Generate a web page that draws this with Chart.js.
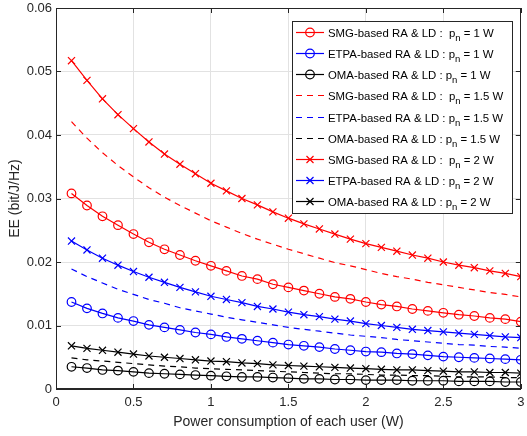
<!DOCTYPE html>
<html>
<head>
<meta charset="utf-8">
<script src="https://cdn.jsdelivr.net/npm/chart.js@4.4.1/dist/chart.umd.min.js"></script>
<style>
html,body{margin:0;padding:0;background:#fff;}
canvas{display:block;}
</style>
</head>
<body>
<canvas id="c" width="527" height="436"></canvas>
<script>
// ---------- data ----------
const xValues = [0.1,0.2,0.3,0.4,0.5,0.6,0.7,0.8,0.9,1.0,1.1,1.2,1.3,1.4,1.5,1.6,1.7,1.8,1.9,2.0,2.1,2.2,2.3,2.4,2.5,2.6,2.7,2.8,2.9,3.0];

const smg1  = [0.0308,0.0289,0.0272,0.0258,0.0244,0.0231,0.0220,0.0211,0.0202,0.0194,0.0186,0.0178,0.0173,0.0165,0.0160,0.0155,0.0150,0.0145,0.0142,0.0137,0.0133,0.0130,0.0126,0.0123,0.0120,0.0117,0.0115,0.0112,0.0110,0.0106];
const etpa1 = [0.0137,0.0127,0.0119,0.0112,0.0107,0.0101,0.0097,0.0093,0.0089,0.0086,0.0082,0.0079,0.0076,0.0073,0.0070,0.0068,0.0066,0.0063,0.0061,0.0059,0.0058,0.0056,0.0055,0.0053,0.0051,0.0050,0.0049,0.0048,0.0047,0.0046];
const oma1  = [0.0035,0.0033,0.0030,0.0029,0.0027,0.0025,0.0024,0.0023,0.0022,0.0021,0.0020,0.0019,0.0019,0.0018,0.0017,0.0016,0.0016,0.0015,0.0015,0.0014,0.0014,0.0014,0.0013,0.0013,0.0013,0.0012,0.0012,0.0012,0.0011,0.0011];
const smg15 = [0.0421,0.0395,0.0372,0.0352,0.0334,0.0317,0.0302,0.0289,0.0277,0.0265,0.0255,0.0245,0.0236,0.0228,0.0220,0.0213,0.0206,0.0199,0.0194,0.0188,0.0182,0.0177,0.0173,0.0168,0.0164,0.0160,0.0156,0.0152,0.0149,0.0145];
const etpa15= [0.0189,0.0177,0.0167,0.0157,0.0149,0.0141,0.0135,0.0128,0.0123,0.0118,0.0113,0.0109,0.0105,0.0101,0.0097,0.0094,0.0091,0.0088,0.0085,0.0083,0.0081,0.0078,0.0076,0.0074,0.0072,0.0070,0.0069,0.0067,0.0066,0.0064];
const oma15 = [0.0049,0.0046,0.0044,0.0042,0.0040,0.0038,0.0036,0.0035,0.0033,0.0032,0.0031,0.0030,0.0029,0.0028,0.0027,0.0026,0.0025,0.0024,0.0024,0.0023,0.0022,0.0022,0.0021,0.0021,0.0020,0.0019,0.0019,0.0019,0.0018,0.0018];
const smg2  = [0.0517,0.0486,0.0457,0.0432,0.0410,0.0389,0.0370,0.0354,0.0339,0.0324,0.0312,0.0300,0.0290,0.0279,0.0269,0.0260,0.0252,0.0244,0.0236,0.0229,0.0223,0.0217,0.0211,0.0206,0.0200,0.0195,0.0191,0.0186,0.0182,0.0177];
const etpa2 = [0.0233,0.0219,0.0206,0.0195,0.0185,0.0176,0.0168,0.0160,0.0153,0.0146,0.0141,0.0136,0.0130,0.0126,0.0121,0.0117,0.0114,0.0110,0.0107,0.0103,0.0100,0.0097,0.0094,0.0092,0.0090,0.0088,0.0086,0.0084,0.0082,0.0081];
const oma2  = [0.0068,0.0064,0.0061,0.0058,0.0055,0.0052,0.0050,0.0048,0.0046,0.0044,0.0043,0.0041,0.0040,0.0038,0.0037,0.0036,0.0035,0.0034,0.0033,0.0032,0.0031,0.0030,0.0030,0.0029,0.0028,0.0027,0.0027,0.0026,0.0026,0.0025];

const xTickValues = [0,0.5,1,1.5,2,2.5,3];
const xTickLabels = ['0','0.5','1','1.5','2','2.5','3'];
const yTickValues = [0,0.01,0.02,0.03,0.04,0.05,0.06];
const yTickLabels = ['0','0.01','0.02','0.03','0.04','0.05','0.06'];

const legendPrefixes = ['SMG-based RA & LD :  p','ETPA-based RA & LD : p','OMA-based RA & LD : p',
                        'SMG-based RA & LD :  p','ETPA-based RA & LD : p','OMA-based RA & LD : p',
                        'SMG-based RA & LD :  p','ETPA-based RA & LD : p','OMA-based RA & LD : p'];
const legendSuffixes = [' = 1 W',' = 1 W',' = 1 W',' = 1.5 W',' = 1.5 W',' = 1.5 W',' = 2 W',' = 2 W',' = 2 W'];

// ---------- build ----------
const FONT = "'Liberation Sans', Arial, Helvetica, sans-serif";
const RED = '#ff0000', BLUE = '#0000ff', BLACK = '#000000';
const AX = '#262626';
const LW = 1.2;

function pts(arr){ return xValues.map((x,i)=>({x:x,y:arr[i]})); }
function ds(arr,color,kind){
  const d = {data:pts(arr), borderColor:color, backgroundColor:'rgba(0,0,0,0)', borderWidth:LW,
             tension:0, showLine:true, fill:false, pointBorderColor:color,
             pointBackgroundColor:'rgba(0,0,0,0)', pointBorderWidth:LW, _kind:kind};
  if(kind==='o'){ d.pointStyle='circle'; d.pointRadius=4.3; }
  else if(kind==='x'){ d.pointStyle='crossRot'; d.pointRadius=5; }
  else { d.pointRadius=0; d.borderDash=[6,5]; }
  return d;
}
const datasets = [
  ds(smg1,RED,'o'), ds(etpa1,BLUE,'o'), ds(oma1,BLACK,'o'),
  ds(smg15,RED,'-'), ds(etpa15,BLUE,'-'), ds(oma15,BLACK,'-'),
  ds(smg2,RED,'x'), ds(etpa2,BLUE,'x'), ds(oma2,BLACK,'x')
];

function lab(vals,labels){
  return function(v){ const i = vals.findIndex(t=>Math.abs(t-v)<1e-9); return i>=0?labels[i]:''; };
}

const framePlugin = {
  id:'frame',
  afterDraw(chart){
    const ctx = chart.ctx, a = chart.chartArea;
    const xs = chart.scales.x, ys = chart.scales.y;
    ctx.save();
    ctx.strokeStyle = AX; ctx.lineWidth = 1;
    ctx.strokeRect(Math.round(a.left)+0.5, Math.round(a.top)+0.5, Math.round(a.right-a.left)-1, Math.round(a.bottom-a.top)-1);
    const tl = 5;
    ctx.beginPath();
    xTickValues.forEach(v=>{
      const px = Math.round(xs.getPixelForValue(v))+0.5;
      ctx.moveTo(px,a.bottom); ctx.lineTo(px,a.bottom-tl);
      ctx.moveTo(px,a.top); ctx.lineTo(px,a.top+tl);
    });
    yTickValues.forEach(v=>{
      const py = Math.round(ys.getPixelForValue(v))+0.5;
      ctx.moveTo(a.left,py); ctx.lineTo(a.left+tl,py);
      ctx.moveTo(a.right,py); ctx.lineTo(a.right-tl,py);
    });
    ctx.stroke();

    // legend
    const bx = 292, by = 21, bw = 220, bh = 192;
    ctx.fillStyle = '#fff';
    ctx.fillRect(bx,by,bw,bh);
    ctx.strokeStyle = AX; ctx.lineWidth = 1;
    ctx.strokeRect(bx+0.5,by+0.5,bw,bh);
    const rowH = 21.2, y0 = 31.7;
    datasets.forEach((d,i)=>{
      const cy = Math.round(y0 + i*rowH)+0.5;
      ctx.strokeStyle = d.borderColor; ctx.lineWidth = LW;
      ctx.setLineDash(d._kind==='-'?[6,5]:[]);
      ctx.beginPath(); ctx.moveTo(296,cy); ctx.lineTo(324,cy); ctx.stroke();
      ctx.setLineDash([]);
      if(d._kind==='o'){ ctx.beginPath(); ctx.arc(310,cy,4.3,0,Math.PI*2); ctx.stroke(); }
      if(d._kind==='x'){ ctx.beginPath(); ctx.moveTo(306.5,cy-3.5); ctx.lineTo(313.5,cy+3.5); ctx.moveTo(313.5,cy-3.5); ctx.lineTo(306.5,cy+3.5); ctx.stroke(); }
      ctx.fillStyle = '#000';
      ctx.textBaseline = 'alphabetic';
      ctx.font = '11.4px ' + FONT;
      let tx = 328;
      const base = cy + 4;
      ctx.fillText(legendPrefixes[i], tx, base);
      tx += ctx.measureText(legendPrefixes[i]).width;
      ctx.font = '9.5px ' + FONT;
      ctx.fillText('n', tx, base + 4);
      tx += ctx.measureText('n').width;
      ctx.font = '11.4px ' + FONT;
      ctx.fillText(legendSuffixes[i], tx, base);
    });
    ctx.restore();
  }
};

new Chart(document.getElementById('c'), {
  type:'line',
  data:{datasets:datasets},
  options:{
    responsive:false, animation:false, devicePixelRatio:1,
    layout:{padding:{top:8,right:3,left:0,bottom:0}},
    plugins:{legend:{display:false}, tooltip:{enabled:false}},
    scales:{
      x:{type:'linear', min:0, max:3,
        ticks:{stepSize:0.5, autoSkip:false, maxRotation:0, padding:6, color:AX, font:{family:FONT,size:13}, callback:lab(xTickValues,xTickLabels)},
        grid:{color:'#e2e2e2', drawTicks:false, lineWidth:1},
        border:{color:AX, width:1},
        title:{display:true, text:'Power consumption of each user (W)', color:AX, font:{family:FONT,size:14}, padding:{top:0,bottom:5.6}},
        afterFit(s){ s.height = 47; s.paddingLeft = 0; s.paddingRight = 0; }
      },
      y:{type:'linear', min:0, max:0.06,
        ticks:{stepSize:0.01, autoSkip:false, padding:4, color:AX, font:{family:FONT,size:13}, callback:lab(yTickValues,yTickLabels)},
        grid:{color:'#e2e2e2', drawTicks:false, lineWidth:1},
        border:{color:AX, width:1},
        title:{display:true, text:'EE (bit/J/Hz)', color:AX, font:{family:FONT,size:14}, padding:{top:6.6,bottom:0}},
        afterFit(s){ s.width = 56; s.paddingTop = 0; s.paddingBottom = 0; }
      }
    }
  },
  plugins:[framePlugin]
});
</script>
</body>
</html>
